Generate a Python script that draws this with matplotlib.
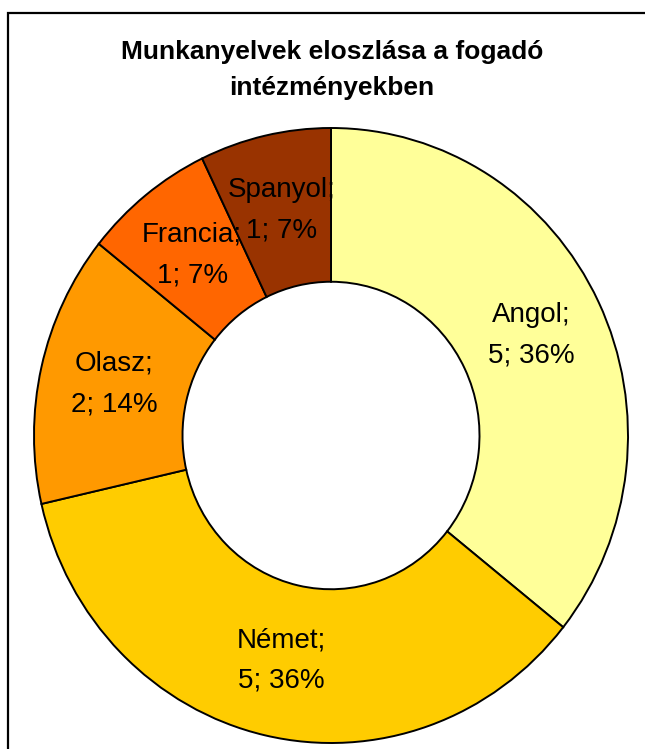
import matplotlib
matplotlib.use('Agg')
import matplotlib.pyplot as plt
import matplotlib.patches as patches

plt.rcParams['font.family'] = ['Liberation Sans', 'DejaVu Sans']

# adatok
nyelvek = ['Angol', 'Német', 'Olasz', 'Francia', 'Spanyol']
darab = [5, 5, 2, 1, 1]
szinek = ['#FFFF99', '#FFCC00', '#FF9900', '#FF6600', '#993300']
cim = 'Munkanyelvek eloszlása a fogadó\nintézményekben'

W, H = 645, 749
fig = plt.figure(figsize=(W / 100, H / 100), dpi=100)
fig.patch.set_facecolor('white')

# keret (jobb és alsó széle kilóg a képből)
keret = patches.Rectangle((7.5 / W, -0.05), 1.2, (H - 12.5) / H + 0.05,
                          transform=fig.transFigure, fill=False,
                          edgecolor='black', linewidth=1.6)
fig.patches.append(keret)

# a kör középpontja és sugara pixelben
cx, cy = 331, 435.5
rx, ry = 297, 307.5

ax = fig.add_axes([0, 0, 1, 1])
osszes = sum(darab)
cimkek = [f"{n};\n{d}; {round(d / osszes * 100)}%" for n, d in zip(nyelvek, darab)]

wedges, texts = ax.pie(darab, colors=szinek, startangle=90, counterclock=False,
                       radius=1, labels=cimkek, labeldistance=0.75,
                       wedgeprops=dict(width=0.5, edgecolor='black', linewidth=1.4))
for t in texts:
    t.set_ha('center')
    t.set_va('center')
    t.set_fontsize(20)
    t.set_linespacing(1.72)

ax.set_aspect('auto')
ax.set_xlim(-cx / rx, (W - cx) / rx)
ax.set_ylim(-(H - cy) / ry, cy / ry)
ax.axis('off')

fig.text(332 / W, 1 - 70 / H, cim, ha='center', va='center', fontsize=19,
         fontweight='bold', linespacing=1.68)

fig.savefig('out.png', dpi=100)
